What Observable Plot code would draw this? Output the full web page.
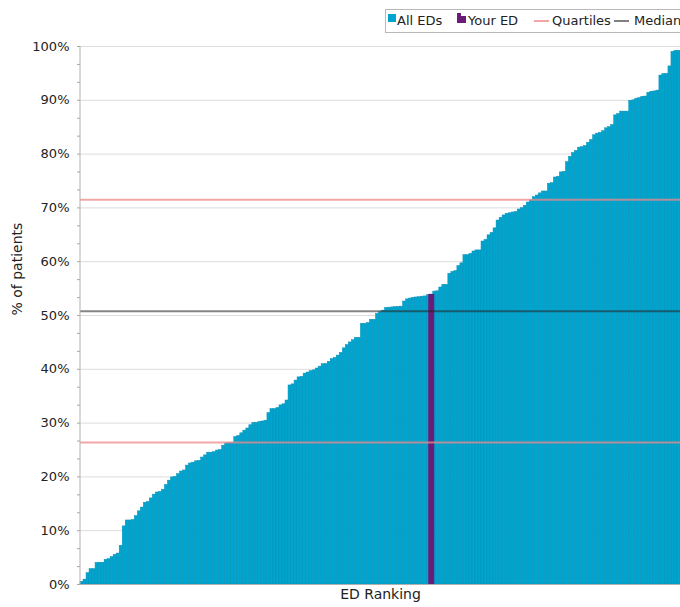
<!DOCTYPE html>
<html><head><meta charset="utf-8">
<script src="https://cdn.jsdelivr.net/npm/d3@7"></script>
<script src="https://cdn.jsdelivr.net/npm/@observablehq/plot@0.6"></script>
<style>
body{margin:0;background:#fff;font-family:"DejaVu Sans",sans-serif;}
#wrap{position:relative;width:680px;height:607px;overflow:hidden;}
#legend{position:absolute;left:385px;top:9px;width:320px;height:22px;border:1px solid #b8b8b8;background:#fff;font-size:13px;color:#222;}
#legend .it{position:absolute;top:0;line-height:22px;white-space:nowrap;}
#legend .sw{position:absolute;}
</style>
</head><body>
<div id="wrap">
  <div id="chart"></div>
  <div id="legend"></div>
</div>
<script>
// ---- data (sorted % of patients per ED) ----
const values = [
  0.5, 0.9, 2.1, 2.85, 2.85, 4.0, 4.05, 4.05, 4.6, 4.7,
  5.1, 5.5, 5.75, 7.2, 10.8, 11.9, 11.9, 12.0, 12.7, 13.6,
  14.3, 15.2, 15.35, 16.0, 16.7, 17.1, 17.2, 17.6, 18.5, 19.3,
  19.9, 20.0, 20.5, 21.0, 21.2, 22.1, 22.5, 22.65, 22.9, 23.0,
  23.6, 24.0, 24.5, 24.5, 24.6, 24.9, 25.0, 25.8, 26.2, 26.3,
  26.35, 27.4, 27.6, 28.1, 28.6, 29.0, 29.6, 30.05, 30.05, 30.2,
  30.3, 30.45, 31.85, 32.6, 32.6, 32.8, 33.3, 33.5, 34.2, 37.0,
  37.2, 37.9, 38.5, 38.6, 39.2, 39.4, 39.65, 39.8, 40.15, 40.5,
  40.95, 41.0, 41.4, 41.9, 42.1, 42.55, 43.05, 43.9, 44.5, 45.0,
  45.4, 45.85, 45.85, 48.45, 48.45, 48.6, 49.2, 49.2, 50.3, 50.6,
  50.9, 51.4, 51.45, 51.5, 51.55, 51.6, 51.65, 52.6, 53.0, 53.15,
  53.3, 53.35, 53.4, 53.5, 53.55, 53.8, 53.9, 54.45, 54.5, 55.2,
  55.7, 55.7, 57.75, 58.1, 58.25, 59.2, 59.7, 61.2, 61.2, 61.45,
  61.9, 62.1, 62.1, 63.75, 64.05, 64.9, 65.35, 66.2, 67.65, 68.15,
  68.6, 68.9, 69.0, 69.15, 69.25, 69.7, 69.95, 70.4, 71.0, 71.4,
  72.0, 72.3, 72.7, 73.05, 73.05, 74.5, 74.6, 75.65, 75.8, 76.6,
  76.7, 78.5, 79.5, 80.2, 80.6, 81.2, 81.3, 81.5, 82.1, 82.6,
  83.5, 83.8, 83.95, 84.25, 84.8, 85.0, 85.4, 87.2, 87.45, 87.9,
  87.9, 87.9, 89.9, 90.0, 90.3, 90.4, 90.65, 90.7, 91.4, 91.6,
  91.65, 91.8, 94.6, 94.9, 94.9, 96.3, 99.0, 99.2, 99.2
];
const yourIndex = 116;
const quartiles = [26.4, 71.5];
const median = [50.8];
const yTicks = [10, 20, 30, 40, 50, 60, 70, 80, 90, 100];
const tickValues = d3.range(0, 31).map(i => i * 10 / 3);
const legendLabels = ["All EDs", "Your ED", "Quartiles", "Median"];
const xTitle = "ED Ranking";
const yTitle = "% of patients";

const colors = {all: "#00a5cf", allEdge: "#0790b5", your: "#6a1d78", quart: "#ee8a8a", med: "#222"};

const data = values.map((v, i) => ({i, v}));

const plot = Plot.plot({
  width: 680, height: 607,
  marginLeft: 80, marginRight: 0, marginTop: 46, marginBottom: 23,
  x: {domain: [0, values.length], axis: null},
  y: {domain: [0, 100], axis: null, label: null},
  style: {fontFamily: "DejaVu Sans", fontSize: "13px", color: "#222", background: "#fff"},
  marks: [
    Plot.gridY({ticks: yTicks, stroke: "#dcdcdc", strokeOpacity: 1}),
    Plot.rect(data, {x1: "i", x2: d => d.i + 1, y1: 0, y2: "v", fill: colors.all, stroke: colors.allEdge, strokeWidth: 0.5}),
    Plot.rect([data[yourIndex]], {x1: "i", x2: d => d.i + 1, y1: 0, y2: "v", fill: colors.your, insetLeft: -1.5, insetRight: -1.5}),
    Plot.ruleY(quartiles, {stroke: colors.quart, strokeOpacity: 0.75, strokeWidth: 2}),
    Plot.ruleY(median, {stroke: colors.med, strokeOpacity: 0.55, strokeWidth: 2}),
    Plot.ruleY([0], {stroke: "#b0b0b0"}),
    Plot.ruleX([0], {stroke: "#b0b0b0", dx: -0.5}),
    Plot.axisY({ticks: tickValues, tickSize: 3, tickPadding: 8, stroke: "#a8a8a8", fill: "#222", label: null,
      tickFormat: d => Math.abs(d / 10 - Math.round(d / 10)) < 1e-6 ? Math.round(d) + "%" : ""}),
    Plot.text([yTitle], {text: d => d, frameAnchor: "left", dx: -63, rotate: -90, fontSize: 14, fill: "#222"}),
    Plot.text([xTitle], {text: d => d, frameAnchor: "bottom", dy: 14, fontSize: 14, fill: "#222"})
  ]
});
document.getElementById("chart").appendChild(plot);

// ---- legend ----
const lg = document.getElementById("legend");
lg.innerHTML = `
  <div class="sw" style="left:2px;top:4px;width:8px;height:8px;background:${colors.all}"></div>
  <div class="it" style="left:11px">${legendLabels[0]}</div>
  <svg class="sw" style="left:71px;top:3px" width="9" height="10"><path d="M0,0H4V3H9V10H0Z" fill="${colors.your}"/></svg>
  <div class="it" style="left:82px">${legendLabels[1]}</div>
  <div class="sw" style="left:148px;top:10px;width:15px;height:2px;background:#f4a6a6"></div>
  <div class="it" style="left:166px">${legendLabels[2]}</div>
  <div class="sw" style="left:228px;top:10px;width:15px;height:2px;background:#808080"></div>
  <div class="it" style="left:248px">${legendLabels[3]}</div>`;
</script>
</body></html>
